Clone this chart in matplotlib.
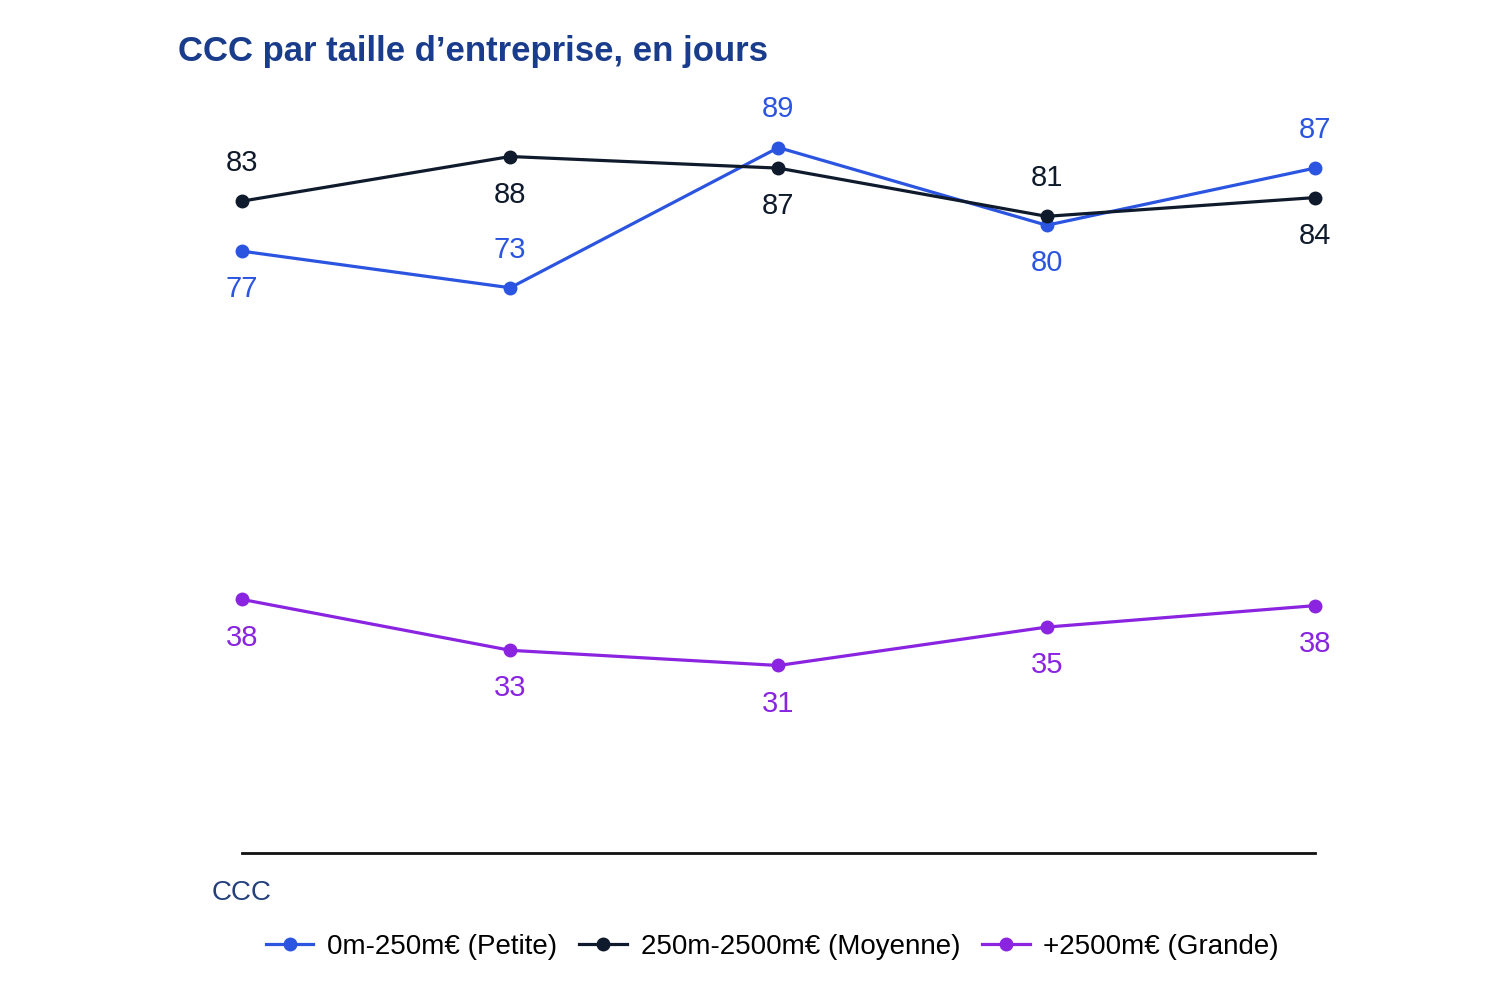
import numpy as np
import matplotlib
matplotlib.use("Agg")
import matplotlib.pyplot as plt

plt.rcParams['font.family'] = ['Liberation Sans', 'DejaVu Sans']

# données (jours)
categories = ["CCC"]
periods = [0, 1, 2, 3, 4]
petite = [77.4, 73.3, 89.0, 80.3, 86.7]
moyenne = [83.0, 88.0, 86.7, 81.3, 83.4]
grande = [38.4, 32.7, 31.0, 35.3, 37.7]

petite_lbl = ["77", "73", "89", "80", "87"]
moyenne_lbl = ["83", "88", "87", "81", "84"]
grande_lbl = ["38", "33", "31", "35", "38"]

# position des étiquettes : +1 au-dessus, -1 en dessous
petite_pos = [-1, 1, 1, -1, 1]
moyenne_pos = [1, -1, -1, 1, -1]
grande_pos = [-1, -1, -1, -1, -1]

series = [
    ("0m-250m€ (Petite)", petite, petite_lbl, petite_pos, "#2B55E0"),
    ("250m-2500m€ (Moyenne)", moyenne, moyenne_lbl, moyenne_pos, "#0F1B2C"),
    ("+2500m€ (Grande)", grande, grande_lbl, grande_pos, "#8A24E0"),
]

fig = plt.figure(figsize=(15, 10), dpi=100)
ax = fig.add_axes([0.1613, 0.147, 0.7153, 0.759])

for name, vals, lbls, pos, col in series:
    ax.plot(periods, vals, color=col, lw=2.3, marker='o', ms=9, label=name,
            zorder=3, clip_on=False)
    for x, v, t, p in zip(periods, vals, lbls, pos):
        ax.annotate(t, (x, v), xytext=(0, 27.5 * p), textcoords='offset points',
                    ha='center', va='center', fontsize=21, color=col)

ax.set_xlim(0, 4)
ax.set_ylim(10, 95)
for s in ['top', 'right', 'left']:
    ax.spines[s].set_visible(False)
ax.spines['bottom'].set_linewidth(2)
ax.spines['bottom'].set_color('#111111')
ax.set_yticks([])
ax.set_xticks([])

ax.text(0, -0.035, categories[0], transform=ax.get_xaxis_transform(),
        ha='center', va='top', fontsize=20, color='#233F7C')

fig.text(0.119, 0.948, "CCC par taille d\u2019entreprise, en jours",
         ha='left', va='center', fontsize=25, fontweight='bold', color='#1A3C8C')

fig.legend(loc='center', bbox_to_anchor=(0.515, 0.053), ncol=3, frameon=False,
           fontsize=20, handlelength=1.7, handletextpad=0.5, columnspacing=0.8)

fig.savefig("out.png", dpi=100)
